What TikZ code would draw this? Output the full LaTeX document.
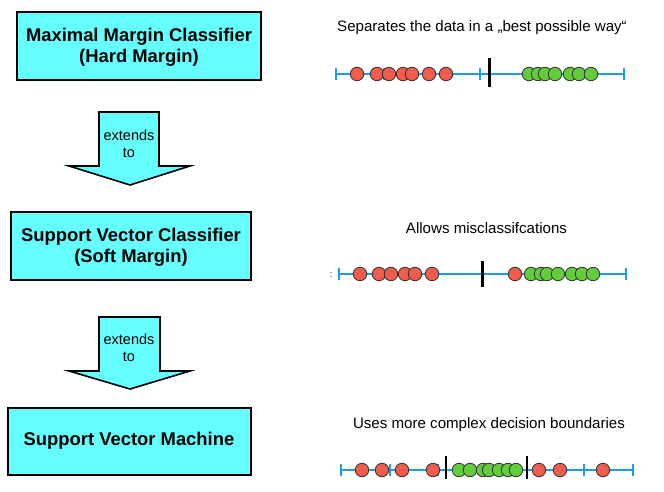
\documentclass[tikz,border=0pt]{standalone}
\usepackage{fontspec}
\setmainfont{Liberation Sans}
\definecolor{boxcyan}{HTML}{66FFFF}
\definecolor{axisblue}{HTML}{1E9CF0}
\definecolor{ptred}{HTML}{F25C4C}
\definecolor{ptgreen}{HTML}{62CC3A}
\begin{document}
\begin{tikzpicture}[x=1pt,y=-1pt,
  box/.style={draw=black,line width=1.6pt,fill=boxcyan},
  boxtext/.style={font=\fontsize{18.4}{21}\selectfont\bfseries,align=center,inner sep=0pt},
  arrowshape/.style={draw=black,line width=1.6pt,fill=boxcyan,line join=miter},
  arrowtext/.style={font=\fontsize{14.5}{16.7}\selectfont,align=center,inner sep=0pt},
  caption/.style={font=\fontsize{15.1}{17}\selectfont,inner sep=0pt},
  axis/.style={draw=axisblue,line width=1.8pt},
  tickmark/.style={draw=axisblue,line width=1.8pt},
  redpt/.style={circle,draw=black!80,line width=0.8pt,fill=ptred,minimum size=13.5pt,inner sep=0pt},
  greenpt/.style={circle,draw=black!80,line width=0.8pt,fill=ptgreen,minimum size=13.5pt,inner sep=0pt},
  boundary/.style={draw=black,line width=3pt}
]
\useasboundingbox (0,0) rectangle (664,492);
\fill[white] (0,0) rectangle (664,492);

% Boxes
\draw[box] (17,12) rectangle (261,80);
\node[boxtext] (b1) at (139,47) {Maximal Margin Classifier\\(Hard Margin)};
\draw[box] (11,212) rectangle (251,280);
\node[boxtext] (b2) at (131,247) {Support Vector Classifier\\(Soft Margin)};
\draw[box] (8,408) rectangle (251,475);
\node[boxtext] (b3) at (129,441) {Support Vector Machine};

% Block arrows
\draw[arrowshape] (99,112) -- (159,112) -- (159,166) -- (190,166) -- (130,185) -- (69,166) -- (99,166) -- cycle;
\node[arrowtext] (a1) at (129,144) {extends\\to};
\draw[arrowshape] (99,317) -- (160,317) -- (160,371) -- (190,371) -- (130,389) -- (69,371) -- (99,371) -- cycle;
\node[arrowtext] (a2) at (129,348) {extends\\to};

% Captions
\node[caption] (c1) at (482,28) {Separates the data in a „best possible way“};
\node[caption] (c2) at (486.5,228) {Allows misclassifcations};
\node[caption] (c3) at (489,425) {Uses more complex decision boundaries};

% Line 1
\draw[axis] (336,74) -- (624,74);
\foreach \t in {0,...,6} \draw[tickmark] (336+48*\t,68) -- (336+48*\t,80);
\draw[boundary] (489,58) -- (489,87);
\foreach \p in {357,377,389,403,412,429,446} \node[redpt] at (\p,74) {};
\foreach \p in {529,538,545,555,570,579,591} \node[greenpt] at (\p,74) {};

% Line 2
\fill[black!70] (331,272.5) circle (0.6) (331,276.5) circle (0.6);
\draw[axis] (339,274) -- (626,274);
\foreach \t in {0,...,6} \draw[tickmark] (339+47.83*\t,268) -- (339+47.83*\t,280);
\draw[boundary] (482,261) -- (482,287);
\foreach \p in {360,379,391,405,415,432,515} \node[redpt] at (\p,274) {};
\foreach \p in {531,541,547,558,572,582,593} \node[greenpt] at (\p,274) {};

% Line 3
\draw[axis] (341,470) -- (633,470);
\foreach \t in {0,...,6} \draw[tickmark] (341+48.67*\t,464) -- (341+48.67*\t,476);
\draw[boundary,line width=2.6pt] (446,456) -- (446,479);
\draw[boundary,line width=2.6pt] (527,456) -- (527,479);
\foreach \p in {362,382,402,433,539,560,603} \node[redpt] at (\p,470) {};
\foreach \p in {459,470,483,489,499,508,516} \node[greenpt] at (\p,470) {};
\end{tikzpicture}
\end{document}
